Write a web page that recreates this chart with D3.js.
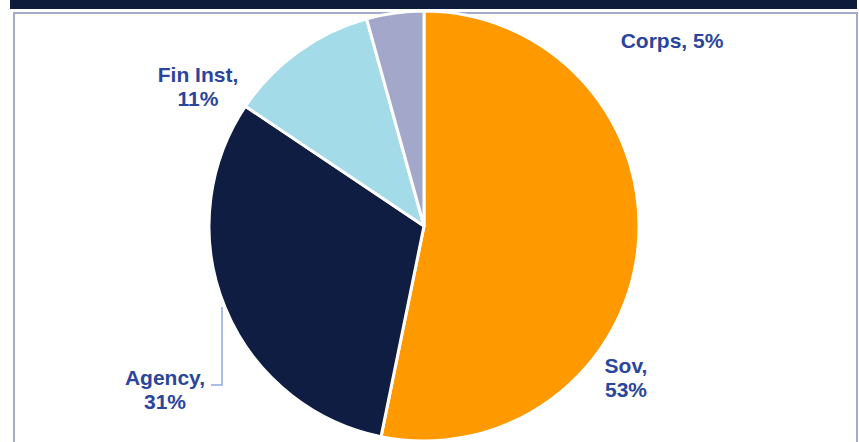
<!DOCTYPE html>
<html>
<head>
<script src="https://d3js.org/d3.v7.min.js"></script>
<style>
  body { margin: 0; background: #fff; }
  svg { display: block; }
</style>
</head>
<body>
<svg width="859" height="442"></svg>
<script>
// slices, clockwise from 12 o'clock
var categories = ["Sov", "Agency", "Fin Inst", "Corps"];
var shares = [53.2, 31.2, 11.3, 4.3];
var pctLabels = ["53%", "31%", "11%", "5%"];
var colors = ["#ff9900", "#0f1d42", "#a4dbe8", "#a3a8cb"];

var svg = d3.select("svg");

// frame
svg.append("rect").attr("x", 10).attr("y", 0).attr("width", 847).attr("height", 9).attr("fill", "#0f1b3a");
svg.append("rect").attr("x", 14).attr("y", 13).attr("width", 843).attr("height", 460)
  .attr("fill", "none").attr("stroke", "#a6abcc").attr("stroke-width", 2);

var cx = 424, cy = 226, r = 215;
var pie = d3.pie().sort(null).value(function(d) { return d; });
var arc = d3.arc().innerRadius(0).outerRadius(r);

var g = svg.append("g").attr("transform", "translate(" + cx + "," + cy + ")");
g.selectAll("path").data(pie(shares)).enter().append("path")
  .attr("d", arc)
  .attr("fill", function(d, i) { return colors[i]; })
  .attr("stroke", "#fff")
  .attr("stroke-width", 3)
  .attr("stroke-linejoin", "round");

// leader line for Agency
svg.append("polyline")
  .attr("points", "222,307 222,385 211,385")
  .attr("fill", "none").attr("stroke", "#8fa8e8").attr("stroke-width", 1.5);

// labels: [x, y of first baseline, lines]
var labels = [
  { x: 626, y: 373, lines: [categories[0] + ",", pctLabels[0]] },
  { x: 165, y: 385, lines: [categories[1] + ",", pctLabels[1]] },
  { x: 198, y: 82, lines: [categories[2] + ",", pctLabels[2]] },
  { x: 672, y: 48, lines: [categories[3] + ", " + pctLabels[3]] }
];

var t = svg.selectAll("text.lbl").data(labels).enter().append("text")
  .attr("class", "lbl")
  .attr("text-anchor", "middle")
  .attr("font-family", "Liberation Sans, Arial, sans-serif")
  .attr("font-weight", "bold")
  .attr("font-size", 21)
  .attr("fill", "#2b459c");

t.each(function(d) {
  var el = d3.select(this);
  d.lines.forEach(function(line, k) {
    el.append("tspan").attr("x", d.x).attr("y", d.y + k * 23.5).text(line);
  });
});
</script>
</body>
</html>
